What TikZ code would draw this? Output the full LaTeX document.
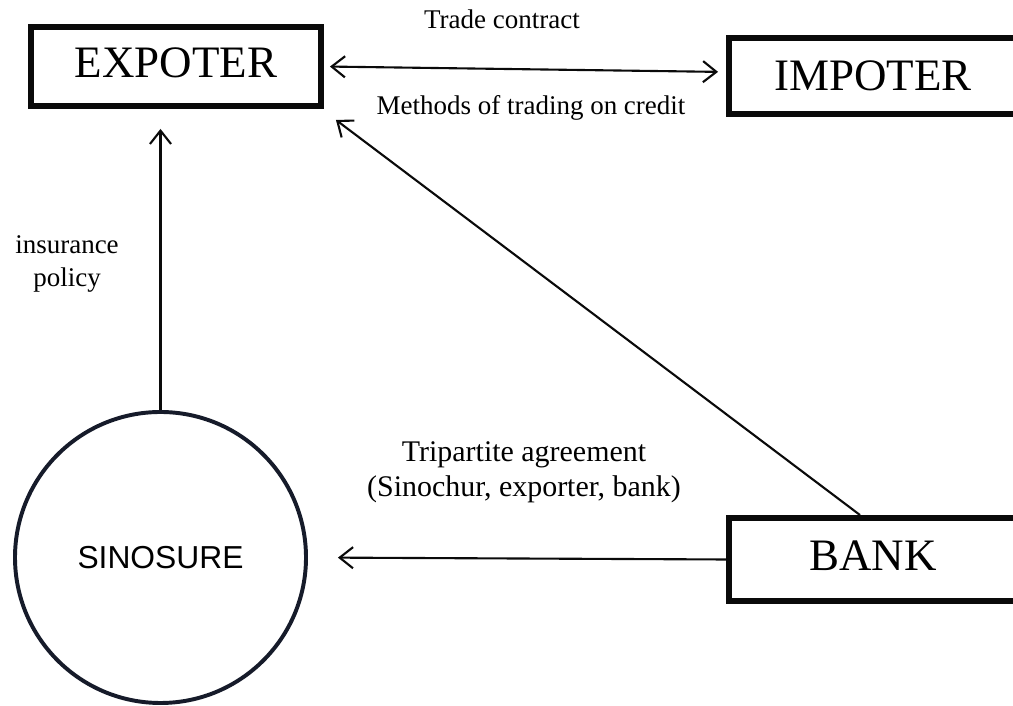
\documentclass[tikz,border=0pt]{standalone}
\usepackage{fontspec}
\setmainfont{Liberation Serif}
\setsansfont{Liberation Sans}
\usetikzlibrary{arrows.meta}
\definecolor{inkblack}{RGB}{10,10,10}
\definecolor{sinonavy}{RGB}{22,27,42}

\begin{document}
\begin{tikzpicture}[x=1cm,y=1cm,
party/.style={draw=inkblack,line width=4.2pt,fill=white,align=center,inner sep=0pt,font=\fontsize{32}{38}\selectfont},
insurer/.style={circle,draw=sinonavy,line width=2.8pt,fill=white,inner sep=0pt,minimum size=7.275cm,font=\sffamily\fontsize{22.6}{27}\selectfont},
lbl/.style={align=center,inner sep=0pt,font=\fontsize{19.2}{23}\selectfont},
arr/.style={-{Straight Barb[length=9.5pt,width=15pt,line width=1.5pt]},line width=1.5pt,draw=inkblack},
both/.style={{Straight Barb[length=9.5pt,width=15pt,line width=1.5pt]}-{Straight Barb[length=9.5pt,width=15pt,line width=1.5pt]},line width=1.5pt,draw=inkblack}]

\useasboundingbox (0,0) rectangle (25.325,17.65);

\node[party,minimum width=7.25cm,minimum height=1.975cm,text depth=.17cm](expoter)at(4.4,15.9875){EXPOTER};
\node[party,minimum width=7.2cm,minimum height=1.9cm](impoter)at(21.825,15.75){IMPOTER};
\node[party,minimum width=7.2cm,minimum height=2.075cm,text depth=.2cm](bank)at(21.825,3.6625){BANK};
\node[insurer](sinosure)at(4.0125,3.7125){SINOSURE};

\draw[both,shorten <=.15cm,shorten >=.2cm](expoter.east)--([yshift=.1cm]impoter.west);
\draw[arr]([xshift=-.325cm]bank.north)--([shift={(.3,-.275)}]expoter.south east);
\draw[arr,shorten >=.75cm](bank.west)--(sinosure.east);
\draw[arr,shorten >=.5cm](sinosure.north)--(sinosure.north |- expoter.south);

\node[lbl,anchor=base](trade)at(12.55,16.925){Trade contract};
\node[lbl,anchor=base](credit)at(13.275,14.775){Methods of trading on credit};
\node[lbl](policy)at(1.675,11.05){insurance\\policy};
\node[lbl,font=\fontsize{21.3}{24.9}\selectfont](tripartite)at(13.1,5.85){Tripartite agreement\\(Sinochur, exporter, bank)};
\end{tikzpicture}
\end{document}
